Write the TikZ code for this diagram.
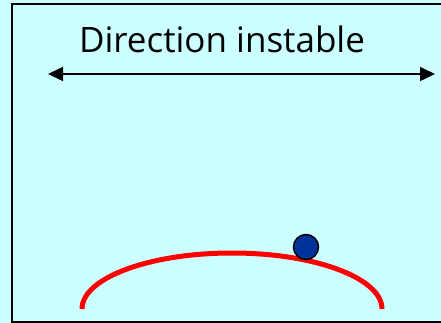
\documentclass[tikz,border=0pt]{standalone}
\usepackage{fontspec}
\setmainfont{Open Sans}
\usetikzlibrary{arrows.meta}
\definecolor{bgcyan}{HTML}{CCFFFF}
\definecolor{ballblue}{HTML}{003399}
\definecolor{trackred}{HTML}{FF0000}

\begin{document}
\begin{tikzpicture}[
      x=1pt, y=-1pt,
      title/.style={font=\fontsize{35}{40}\selectfont, anchor=base, inner sep=0pt},
      ball/.style={circle, draw=black, line width=1.5pt, fill=ballblue,
        minimum size=25pt, inner sep=0pt},
      >={Triangle[length=15pt, width=14pt]}
    ]
      \useasboundingbox (0,0) rectangle (441,323);
      \fill[bgcyan] (0,0) rectangle (441,323);
      \draw[line width=2pt] (446,4.5) -- (11.5,4.5) -- (11.5,322) -- (446,322);
      \node[title] (label) at (222,53) {Direction instable};
      \coordinate (leftend) at (48,74);
      \coordinate (rightend) at (435,74);
      \draw[<->, line width=1.5pt] (leftend) -- (rightend);
      % hill
      \draw[trackred, line width=5pt] (82,309) arc[start angle=180, end angle=0,
        x radius=150, y radius=-56];
      \node[ball] (bead) at (306,247) {};
    \end{tikzpicture}
\end{document}
